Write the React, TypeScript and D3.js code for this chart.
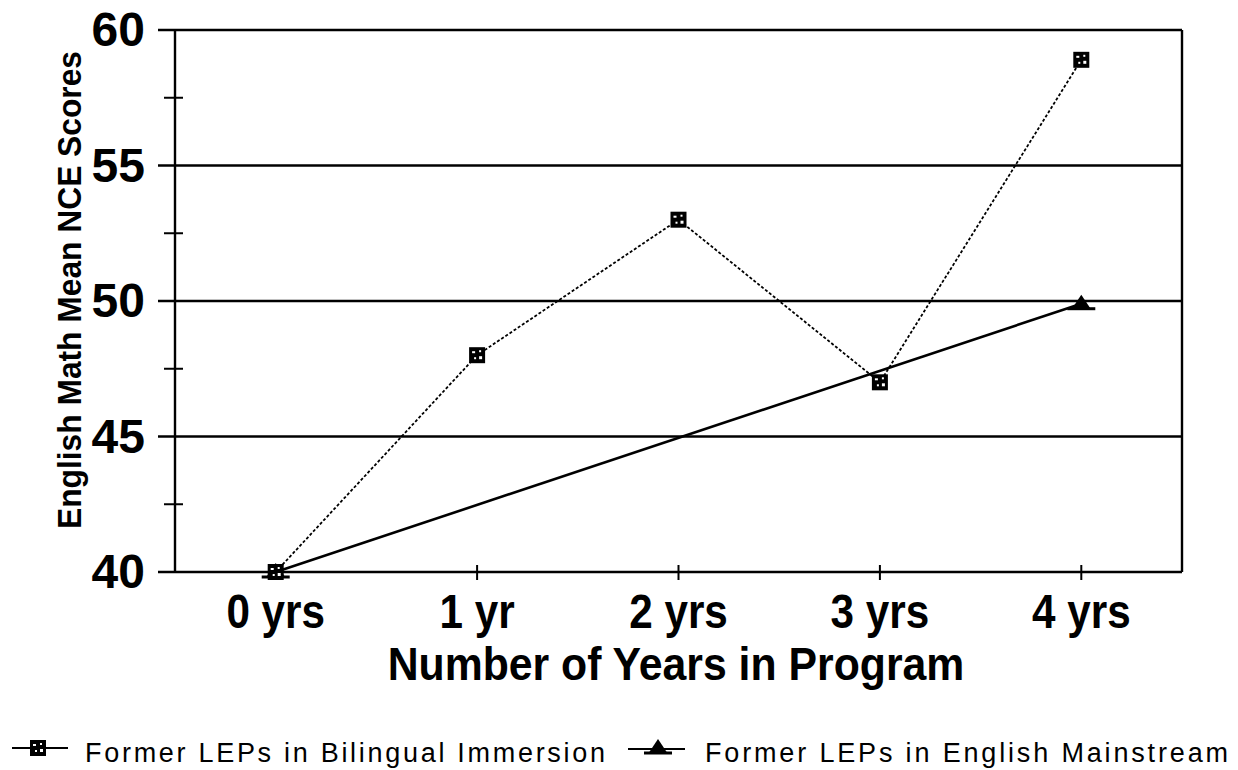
import React from "react";
import * as d3 from "d3";

const categories = ["0 yrs", "1 yr", "2 yrs", "3 yrs", "4 yrs"];
const bilingual: (number | null)[] = [40, 48, 53, 47, 58.9];
const mainstream: (number | null)[] = [40, null, null, null, 49.9];
const yMajorTicks = [40, 45, 50, 55, 60];
const yMinorTicks = [42.5, 47.5, 52.5, 57.5];
const seriesNames = ["Former LEPs in Bilingual Immersion", "Former LEPs in English Mainstream"];
const xTitle = "Number of Years in Program";
const yTitle = "English Math Mean NCE Scores";

const W = 1238;
const H = 770;
const left = 175;
const right = 1182;
const top = 30;
const bottom = 572;
const FONT = "'Liberation Sans', Arial, Helvetica, sans-serif";

function SquareMarker({ cx, cy }: { cx: number; cy: number }) {
  const s = 16;
  return (
    <g transform={`translate(${cx - s / 2},${cy - s / 2})`}>
      <rect width={s} height={s} fill="#000" />
      <rect x={3} y={4} width={3} height={2} fill="#fff" />
      <rect x={10} y={3} width={2} height={2} fill="#fff" />
      <rect x={5} y={10} width={2} height={2} fill="#fff" />
      <rect x={10} y={9} width={3} height={3} fill="#fff" />
    </g>
  );
}

function TriangleMarker({ cx, cy }: { cx: number; cy: number }) {
  return (
    <g>
      <path d={`M${cx},${cy - 9} L${cx + 10},${cy + 6} L${cx - 10},${cy + 6} Z`} fill="#000" />
      <line x1={cx - 14} x2={cx + 14} y1={cy + 5} y2={cy + 5} stroke="#000" strokeWidth={3} />
    </g>
  );
}

export default function App() {
  const x = d3.scalePoint<string>().domain(categories).range([left, right]).padding(0.5);
  const y = d3.scaleLinear().domain([40, 60]).range([bottom, top]);

  const toPts = (vals: (number | null)[]) =>
    vals
      .map((v, i) => (v == null ? null : ([x(categories[i]) as number, y(v)] as [number, number])))
      .filter((p): p is [number, number] => p != null);

  const line = d3.line<[number, number]>();
  const bPts = toPts(bilingual);
  const mPts = toPts(mainstream);

  return (
    <svg
      width={W}
      height={H}
      style={{ position: "absolute", left: 0, top: 0, background: "#fff" }}
      fontFamily={FONT}
    >
      <rect width={W} height={H} fill="#fff" />
      {yMajorTicks.map((t) => (
        <line key={"g" + t} x1={158} x2={right} y1={y(t)} y2={y(t)} stroke="#000" strokeWidth={2.4} />
      ))}
      {yMinorTicks.map((t) => (
        <line key={"m" + t} x1={164} x2={183} y1={y(t)} y2={y(t)} stroke="#000" strokeWidth={2} />
      ))}
      <line x1={left} x2={left} y1={top} y2={bottom} stroke="#000" strokeWidth={2.4} />
      <line x1={right} x2={right} y1={top} y2={bottom} stroke="#000" strokeWidth={2.4} />
      {categories.map((c) => (
        <line key={"xt" + c} x1={x(c)} x2={x(c)} y1={bottom - 7} y2={bottom + 8} stroke="#000" strokeWidth={2} />
      ))}
      {yMajorTicks.map((t) => (
        <text key={"yl" + t} x={145} y={y(t) + 16} textAnchor="end" fontSize={48} fontWeight="bold">
          {t}
        </text>
      ))}
      {categories.map((c) => (
        <text
          key={"xl" + c}
          transform={`translate(${x(c)},628) scale(0.88,1)`}
          textAnchor="middle"
          fontSize={48}
          fontWeight="bold"
        >
          {c}
        </text>
      ))}
      <text
        transform={`translate(676,680) scale(0.93,1)`}
        textAnchor="middle"
        fontSize={46}
        fontWeight="bold"
      >
        {xTitle}
      </text>
      <text
        transform={`translate(81,290) rotate(-90)`}
        textAnchor="middle"
        fontSize={34}
        fontWeight="bold"
        textLength={478}
        lengthAdjust="spacingAndGlyphs"
      >
        {yTitle}
      </text>
      <path d={line(mPts) ?? ""} fill="none" stroke="#000" strokeWidth={2.6} />
      <path d={line(bPts) ?? ""} fill="none" stroke="#000" strokeWidth={1.8} strokeDasharray="3,2" />
      {mPts.map((p, i) => (
        <TriangleMarker key={"mt" + i} cx={p[0]} cy={p[1]} />
      ))}
      {bPts.map((p, i) => (
        <SquareMarker key={"bs" + i} cx={p[0]} cy={p[1]} />
      ))}
      <line x1={12} x2={68} y1={748} y2={748} stroke="#000" strokeWidth={2.2} />
      <SquareMarker cx={38} cy={748} />
      <text x={85} y={762} fontSize={27} textLength={520}>
        {seriesNames[0]}
      </text>
      <line x1={628} x2={685} y1={749} y2={749} stroke="#000" strokeWidth={2.2} />
      <TriangleMarker cx={658} cy={748} />
      <text x={705} y={762} fontSize={27} textLength={523}>
        {seriesNames[1]}
      </text>
    </svg>
  );
}
